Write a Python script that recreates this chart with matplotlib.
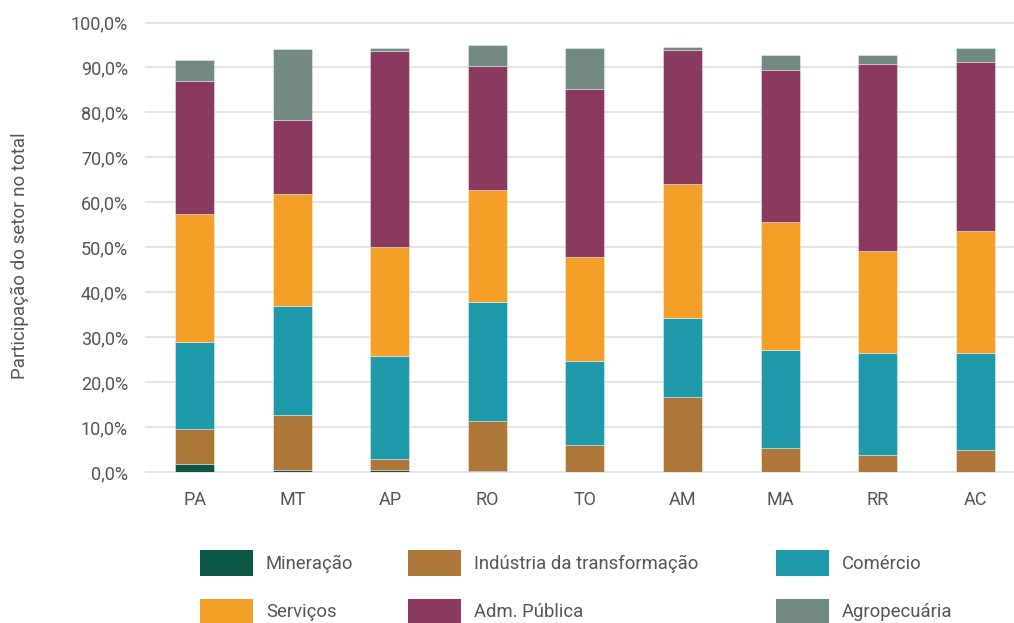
import matplotlib
matplotlib.use("Agg")
import matplotlib.pyplot as plt
from matplotlib.patches import Patch
from matplotlib.ticker import FuncFormatter
import numpy as np

plt.rcParams['font.family'] = ['Roboto', 'DejaVu Sans']

states = ["PA", "MT", "AP", "RO", "TO", "AM", "MA", "RR", "AC"]
mineracao = [1.7, 0.4, 0.4, 0.2, 0.1, 0.1, 0.1, 0.1, 0.1]
industria = [7.9, 12.2, 2.6, 11.1, 5.9, 16.6, 5.2, 3.6, 4.9]
comercio = [19.3, 24.3, 22.8, 26.5, 18.7, 17.5, 21.8, 22.7, 21.4]
servicos = [28.4, 24.9, 24.2, 24.9, 23.1, 29.8, 28.5, 22.7, 27.2]
adm_publica = [29.6, 16.4, 43.6, 27.6, 37.5, 29.9, 33.9, 41.7, 37.6]
agropecuaria = [4.8, 15.9, 0.8, 4.6, 9.0, 0.7, 3.2, 2.0, 3.1]

series = [
    ("Mineração", mineracao, "#0B5745"),
    ("Indústria da transformação", industria, "#AD773A"),
    ("Comércio", comercio, "#1F9AAA"),
    ("Serviços", servicos, "#F4A028"),
    ("Adm. Pública", adm_publica, "#8B3A5F"),
    ("Agropecuária", agropecuaria, "#728A80"),
]

fig = plt.figure(figsize=(10.14, 6.23), dpi=100)
ax = fig.add_axes([146/1014, 1-472/623, 1-146/1014, (472-22.5)/623])

x = np.arange(len(states))
bottom = np.zeros(len(states))
for name, vals, col in series:
    v = np.array(vals)
    ax.bar(x, v, width=0.4, bottom=bottom, color=col, edgecolor=(1, 1, 1, 0.45),
           linewidth=0.6, zorder=3)
    bottom += v

ax.set_ylim(0, 100)
ax.set_xlim(-0.5, 8.5 - 10/97.8)
ax.set_yticks(np.arange(0, 101, 10))
ax.yaxis.set_major_formatter(FuncFormatter(lambda v, p: f"{v:.1f}%".replace(".", ",")))
ax.set_xticks(x)
ax.set_xticklabels(states)
ax.grid(axis='y', color='#e3e3e3', linewidth=1.3, zorder=0)
ax.set_axisbelow(True)
for s in ax.spines.values():
    s.set_visible(False)
ax.tick_params(axis='both', length=0, labelsize=13, colors='#555555')
ax.tick_params(axis='y', pad=13)
ax.tick_params(axis='x', pad=14)
for gl in ax.get_ygridlines():
    gl.set_clip_on(False)

fig.text(20/1014, 1-(256)/623, "Participação do setor no total", rotation=90,
         ha='center', va='center', fontsize=13.5, color='#555555')

cols = [(200, [series[0], series[3]]), (408, [series[1], series[4]]), (776, [series[2], series[5]])]
for xp, items in cols:
    handles = [Patch(facecolor=c, edgecolor='none') for _, _, c in items]
    labels = [n for n, _, _ in items]
    fig.legend(handles, labels, loc='upper left', bbox_to_anchor=(xp/1014, 1-550/623),
               frameon=False, fontsize=13.3, handlelength=2.87, handleheight=1.75,
               handletextpad=0.7, labelspacing=1.25, borderpad=0, borderaxespad=0,
               labelcolor='#555555')

fig.savefig("out.png", dpi=100)
